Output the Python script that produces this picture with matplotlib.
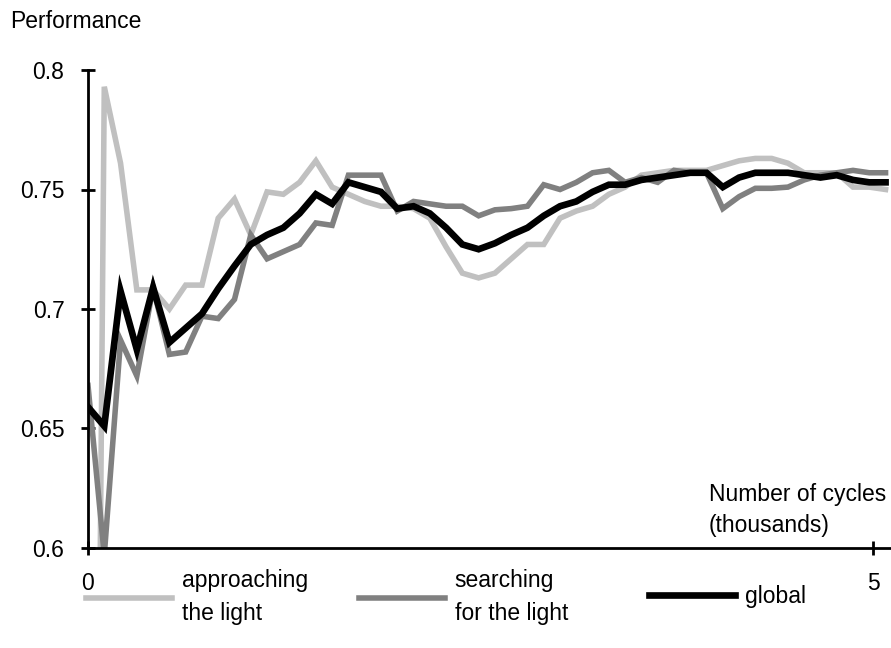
import numpy as np
import matplotlib

matplotlib.use("Agg")
import matplotlib.pyplot as plt
from matplotlib.lines import Line2D

plt.rcParams["font.family"] = ["Liberation Sans", "DejaVu Sans"]

# samples, x in thousands of cycles
cycles = np.linspace(0, 5.08, 50)

approaching = [
    0.0, 0.793, 0.761, 0.708, 0.708, 0.700, 0.710, 0.710, 0.738, 0.746,
    0.731, 0.749, 0.748, 0.753, 0.762, 0.751, 0.748, 0.745, 0.743, 0.743,
    0.742, 0.738, 0.726, 0.715, 0.713, 0.715, 0.721, 0.727, 0.727, 0.738,
    0.741, 0.743, 0.748, 0.751, 0.756, 0.757, 0.758, 0.758, 0.758, 0.760,
    0.762, 0.763, 0.763, 0.761, 0.757, 0.757, 0.757, 0.751, 0.751, 0.750,
]
searching = [
    0.668, 0.597, 0.687, 0.672, 0.709, 0.681, 0.682, 0.697, 0.696, 0.704,
    0.731, 0.721, 0.724, 0.727, 0.736, 0.735, 0.756, 0.756, 0.756, 0.741,
    0.745, 0.744, 0.743, 0.743, 0.739, 0.7415, 0.742, 0.743, 0.752, 0.750,
    0.753, 0.757, 0.758, 0.753, 0.755, 0.753, 0.758, 0.757, 0.757, 0.742,
    0.747, 0.7505, 0.7505, 0.751, 0.754, 0.756, 0.757, 0.758, 0.757, 0.757,
]
global_perf = [
    0.659, 0.651, 0.7075, 0.683, 0.709, 0.686, 0.692, 0.698, 0.7085, 0.718,
    0.727, 0.731, 0.734, 0.740, 0.748, 0.744, 0.753, 0.751, 0.749, 0.742,
    0.743, 0.740, 0.734, 0.727, 0.725, 0.7275, 0.731, 0.734, 0.739, 0.743,
    0.745, 0.749, 0.752, 0.752, 0.754, 0.755, 0.756, 0.757, 0.757, 0.751,
    0.755, 0.757, 0.757, 0.757, 0.756, 0.755, 0.756, 0.754, 0.753, 0.753,
]

series = [
    ("approaching\nthe light", approaching, "#c0c0c0", 4.0),
    ("searching\nfor the light", searching, "#808080", 4.0),
    ("global", global_perf, "#000000", 4.8),
]

yticks = [0.6, 0.65, 0.7, 0.75, 0.8]
ytick_labels = ["0.6", "0.65", "0.7", "0.75", "0.8"]
xticks = [0, 5]
xtick_labels = ["0", "5"]

FS = 16.5

fig = plt.figure(figsize=(8.91, 6.48), dpi=100)
ax = fig.add_axes([88 / 891, 100 / 648, 803 / 891, 478 / 648])

for label, vals, color, lw in series:
    ax.plot(cycles, vals, color=color, lw=lw, solid_joinstyle="miter")

ax.set_xlim(0, 803 / 157)
ax.set_ylim(0.6, 0.8)
ax.set_yticks(yticks)
ax.set_yticklabels(ytick_labels)
ax.set_xticks(xticks)
ax.set_xticklabels(xtick_labels)

for side in ("top", "right"):
    ax.spines[side].set_visible(False)
for side in ("left", "bottom"):
    ax.spines[side].set_linewidth(2.0)
    ax.spines[side].set_color("black")

ax.tick_params(axis="both", direction="inout", length=10, width=2.0,
               labelsize=FS, colors="black")
ax.tick_params(axis="y", pad=12)
ax.tick_params(axis="x", pad=12)

fig.text(10 / 891, 1 - 22 / 648, "Performance", fontsize=FS, ha="left", va="center")
fig.text(886 / 891, 1 - 510 / 648, "Number of cycles\n(thousands)",
         fontsize=FS, ha="right", va="center", multialignment="left",
         linespacing=1.45)

# one legend entry per series, laid out along the bottom
legend_x = [86 / 891, 359 / 891, 649 / 891]
for (label, vals, color, lw), lx in zip(series, legend_x):
    h = Line2D([], [], color=color, lw=lw)
    leg = fig.legend(handles=[h], labels=[label], loc="center left",
                     bbox_to_anchor=(lx, 1 - 597 / 648), frameon=False,
                     fontsize=FS, handlelength=3.75, handletextpad=0.42,
                     borderpad=0, borderaxespad=0)
    for t in leg.get_texts():
        t.set_linespacing(1.55)

fig.savefig("out.png", dpi=100)
